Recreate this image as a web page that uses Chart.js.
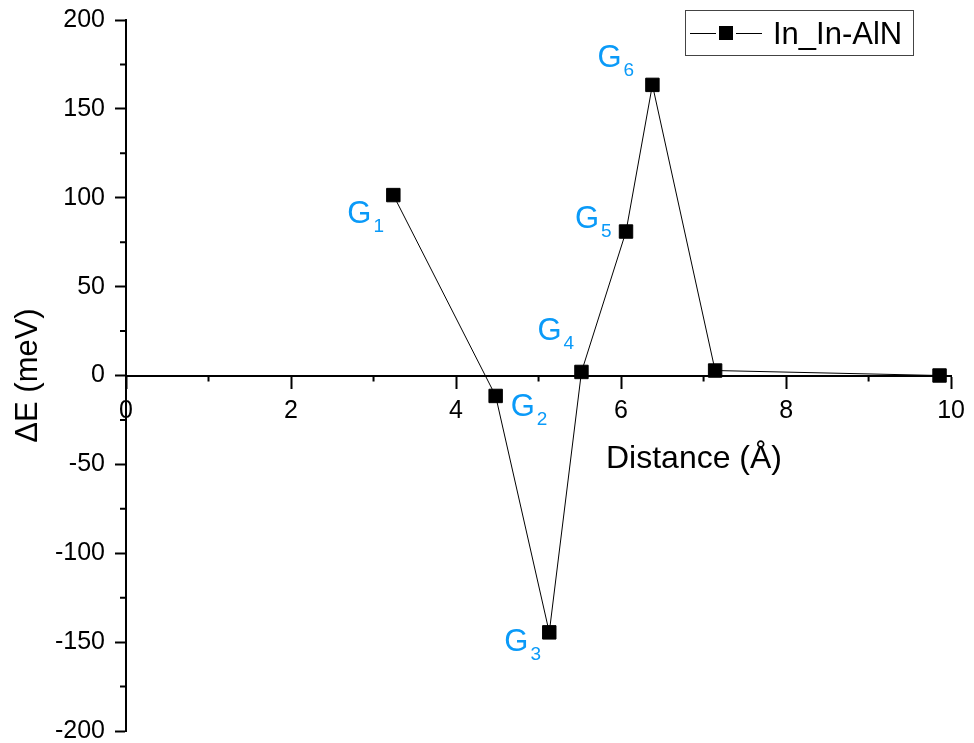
<!DOCTYPE html>
<html>
<head>
<meta charset="utf-8">
<script src="https://cdn.jsdelivr.net/npm/chart.js@4.4.0/dist/chart.umd.min.js"></script>
<style>
  html, body { margin: 0; padding: 0; background: #fff; }
  #chart { display: block; }
</style>
</head>
<body>
<canvas id="chart" width="974" height="743"></canvas>
<script>
// energy difference vs In-In distance
const distances = [3.24, 4.48, 5.13, 5.52, 6.06, 6.38, 7.14, 9.86];
const energies = [101.5, -11.5, -144.5, 2, 81, 163.5, 2.8, 0];
const pointLabels = ['1', '2', '3', '4', '5', '6', '', ''];
const seriesName = 'In_In-AlN';
const xTicks = [0, 2, 4, 6, 8, 10];
const yTicks = [-200, -150, -100, -50, 0, 50, 100, 150, 200];
const xMinor = [1, 3, 5, 7, 9];
const yMinor = [-175, -125, -75, -25, 25, 75, 125, 175];

const FONT = '"Liberation Sans", Arial, sans-serif';
const labelColor = '#0a9af8';
// pixel offsets of each G label from its point (G left edge, baseline)
const labelOffsets = [[-46, 28], [15, 20], [-45, 19], [-44, -32], [-51, -4], [-55, -18]];

const extras = {
    id: 'extras',
    afterDraw(chart) {
        const ctx = chart.ctx;
        const xs = chart.scales.x, ys = chart.scales.y;
        const y0 = ys.getPixelForValue(0);
        const area = chart.chartArea;
        ctx.save();

        // minor ticks
        ctx.strokeStyle = '#000';
        ctx.lineWidth = 2;
        ctx.beginPath();
        xMinor.forEach(v => {
            const px = xs.getPixelForValue(v);
            ctx.moveTo(px, y0);
            ctx.lineTo(px, y0 + 6);
        });
        yMinor.forEach(v => {
            const py = ys.getPixelForValue(v);
            ctx.moveTo(area.left, py);
            ctx.lineTo(area.left - 6, py);
        });
        ctx.stroke();

        // G labels
        ctx.fillStyle = labelColor;
        ctx.textAlign = 'left';
        ctx.textBaseline = 'alphabetic';
        const meta = chart.getDatasetMeta(0);
        pointLabels.forEach((sub, i) => {
            if (!sub) return;
            const pt = meta.data[i];
            const dx = labelOffsets[i][0], dy = labelOffsets[i][1];
            ctx.font = '31px ' + FONT;
            ctx.fillText('G', pt.x + dx, pt.y + dy);
            const w = ctx.measureText('G').width;
            ctx.font = '19px ' + FONT;
            ctx.fillText(sub, pt.x + dx + w + 2, pt.y + dy + 9);
        });

        // axis titles
        ctx.fillStyle = '#000';
        ctx.font = '32px ' + FONT;
        ctx.textAlign = 'center';
        ctx.fillText('Distance (\u00C5)', area.left + 568, y0 + 92);

        ctx.save();
        ctx.translate(28, (area.top + area.bottom) / 2);
        ctx.rotate(-Math.PI / 2);
        ctx.textBaseline = 'middle';
        ctx.font = '31px ' + FONT;
        ctx.fillText('\u0394E (meV)', 0, 0);
        ctx.restore();

        // legend
        ctx.strokeStyle = '#444';
        ctx.lineWidth = 1;
        ctx.strokeRect(685.5, 10.5, 228, 45);
        ctx.strokeStyle = '#000';
        ctx.beginPath();
        ctx.moveTo(690, 33.5); ctx.lineTo(716, 33.5);
        ctx.moveTo(736, 33.5); ctx.lineTo(762, 33.5);
        ctx.stroke();
        ctx.fillStyle = '#000';
        ctx.fillRect(719, 26, 14, 14);
        ctx.font = '31px ' + FONT;
        ctx.textAlign = 'left';
        ctx.textBaseline = 'alphabetic';
        ctx.fillText(seriesName, 773, 44);

        ctx.restore();
    }
};

const ctx = document.getElementById('chart');
const myChart = new Chart(ctx, {
    type: 'scatter',
    data: {
        datasets: [{
            label: seriesName,
            data: distances.map((d, i) => ({ x: d, y: energies[i] })),
            showLine: true,
            borderColor: '#000',
            borderWidth: 1,
            pointStyle: 'rect',
            pointRadius: 9.5,
            pointBackgroundColor: '#000',
            pointBorderColor: '#000',
            pointBorderWidth: 1
        }]
    },
    options: {
        responsive: false,
        animation: false,
        layout: { padding: { left: 0, right: 21, top: 20, bottom: 12 } },
        plugins: {
            legend: { display: false },
            tooltip: { enabled: false }
        },
        scales: {
            x: {
                type: 'linear',
                position: { y: 0 },
                min: 0,
                max: 10,
                afterBuildTicks: s => { s.ticks = xTicks.map(v => ({ value: v })); },
                afterFit: s => { s.height = 2; },
                grid: { drawOnChartArea: false, drawTicks: true, tickLength: 12, tickWidth: 2, tickColor: '#000' },
                border: { display: true, color: '#000', width: 2 },
                ticks: { color: '#000', font: { family: FONT, size: 25 }, padding: 9, maxRotation: 0 }
            },
            y: {
                type: 'linear',
                position: 'left',
                min: -200,
                max: 200,
                afterBuildTicks: s => { s.ticks = yTicks.map(v => ({ value: v })); },
                afterFit: s => { s.width = 126; s.paddingTop = 0; s.paddingBottom = 0; },
                grid: { drawOnChartArea: false, drawTicks: true, tickLength: 11, tickWidth: 2, tickColor: '#000' },
                border: { display: true, color: '#000', width: 2 },
                ticks: { color: '#000', font: { family: FONT, size: 25 }, padding: 10 }
            }
        }
    },
    plugins: [extras]
});
</script>
</body>
</html>
